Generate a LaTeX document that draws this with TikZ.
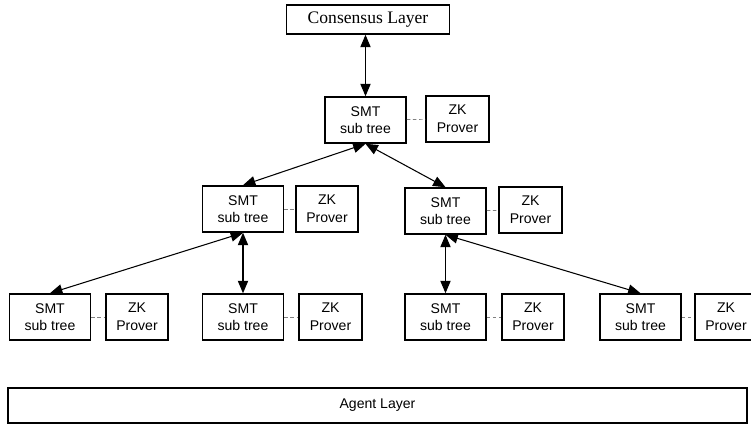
\documentclass[tikz,border=0pt]{standalone}
\usepackage{fontspec}
\setmainfont{Liberation Serif}
\setsansfont{Liberation Sans}
\usetikzlibrary{arrows}

\begin{document}
\begin{tikzpicture}[x=0.02cm, y=-0.02cm,
        box/.style={draw=black, line width=0.9pt, align=center, inner sep=0pt},
        smt/.style={box, font=\sffamily\fontsize{8}{10}\selectfont, minimum width=1.62cm, minimum height=0.92cm},
        zk/.style={box, font=\sffamily\fontsize{8}{10}\selectfont, minimum width=1.25cm, minimum height=0.92cm},
        link/.style={triangle 45-triangle 45, semithick, black},
        tie/.style={gray, thin, dash pattern=on 2pt off 1.5pt}]
        \useasboundingbox (0,0) rectangle (751,425);

        % layers
        \node[box, font=\fontsize{10}{12}\selectfont, minimum width=3.26cm, minimum height=0.58cm] (C) at (368,19.5) {Consensus Layer};
        \node[box, font=\sffamily\fontsize{8}{10}\selectfont, minimum width=14.78cm, minimum height=0.7cm] (G) at (377.5,405.5) {Agent Layer};

        % top
        \node[smt] (S0) at (365.5,120) {SMT\\sub tree};
        \node[zk] (Z0) at (457.5,119) {ZK\\Prover};

        % middle
        \node[smt] (L1) at (243,209) {SMT\\sub tree};
        \node[zk] (LZ) at (327,209) {ZK\\Prover};
        \node[smt] (R1) at (445.5,211) {SMT\\sub tree};
        \node[zk] (RZ) at (530.5,210) {ZK\\Prover};

        % bottom
        \node[smt] (B1) at (50,317) {SMT\\sub tree};
        \node[zk] (Z1) at (137,317) {ZK\\Prover};
        \node[smt] (B2) at (243,317) {SMT\\sub tree};
        \node[zk] (Z2) at (330.5,317) {ZK\\Prover};
        \node[smt] (B3) at (445.5,317) {SMT\\sub tree};
        \node[zk] (Z3) at (533,317) {ZK\\Prover};
        \node[smt] (B4) at (640.5,317) {SMT\\sub tree};
        \node[zk] (Z4) at (726,317) {ZK\\Prover};

        \draw[link] (C.south -| S0) -- (S0);
        \draw[link] (S0.south) -- (L1.north);
        \draw[link] (S0.south) -- (R1.north);
        \draw[link] (L1.south) -- (B1.north);
        \draw[link] (L1.south) -- (B2.north);
        \draw[link] (R1.south) -- (B3.north);
        \draw[link] (R1.south) -- (B4.north);

        \draw[tie] (S0) -- (Z0);
        \draw[tie] (L1) -- (LZ);
        \draw[tie] (R1) -- (RZ);
        \draw[tie] (B1) -- (Z1);
        \draw[tie] (B2) -- (Z2);
        \draw[tie] (B3) -- (Z3);
        \draw[tie] (B4) -- (Z4);
    \end{tikzpicture}
\end{document}
